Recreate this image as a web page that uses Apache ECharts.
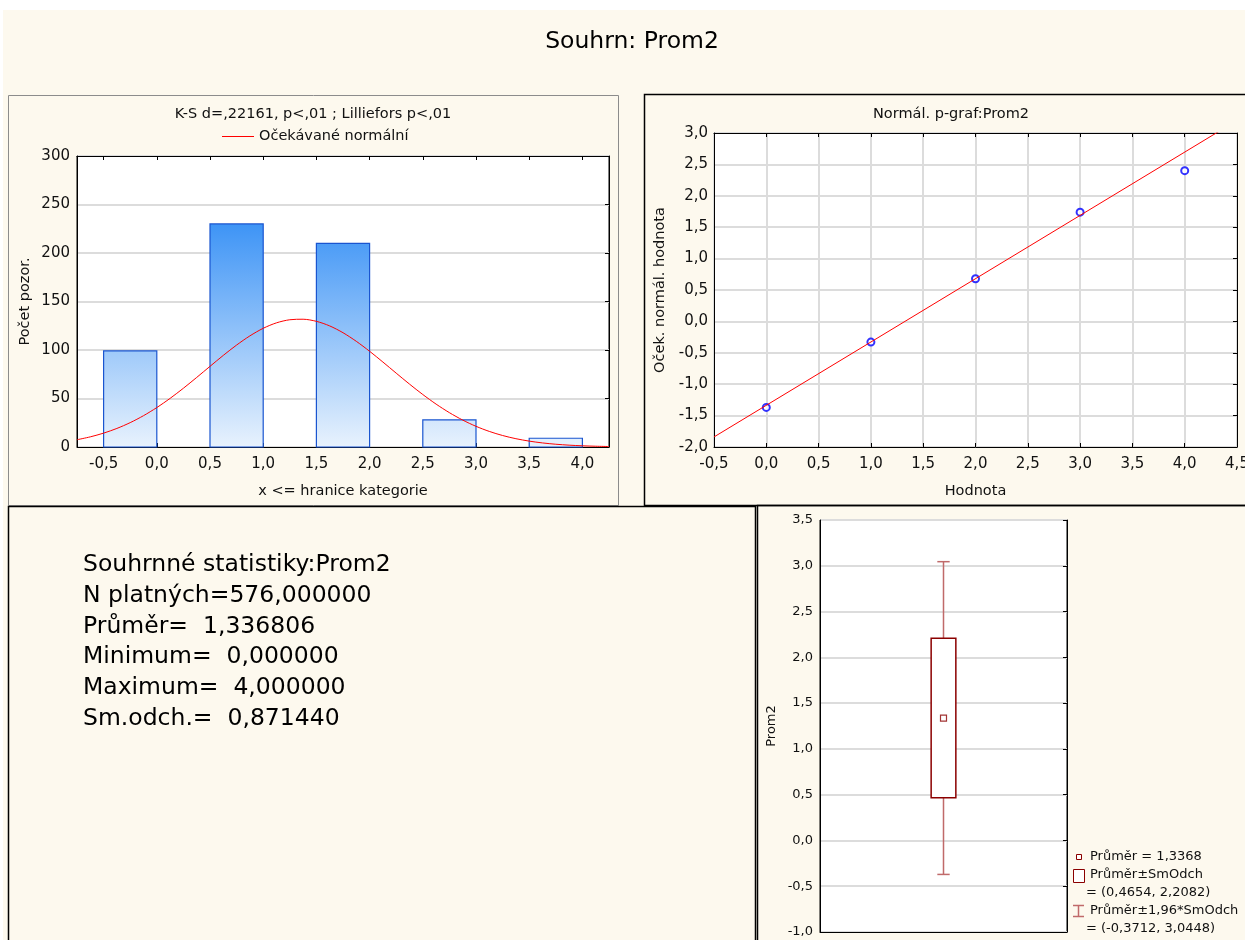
<!DOCTYPE html>
<html>
<head>
<meta charset="utf-8">
<script src="https://cdn.jsdelivr.net/npm/echarts@6/dist/echarts.min.js"></script>
<style>
  html, body { margin: 0; padding: 0; background: #fff; }
  #chart { width: 1245px; height: 940px; }
</style>
</head>
<body>
<div id="chart"></div>
<script>
// ---- Histogram of Prom2: class limits and counts ----
const binLower = [-0.5, 0.5, 1.5, 2.5, 3.5];
const binUpper = [0.0, 1.0, 2.0, 3.0, 4.0];
const binCounts = [99, 230, 210, 28, 9];
const histTicks = [-0.5, 0.0, 0.5, 1.0, 1.5, 2.0, 2.5, 3.0, 3.5, 4.0];

// Expected normal frequencies (per class width 0.5)
const normalX = [-0.75, -0.625, -0.5, -0.375, -0.25, -0.125, 0.0, 0.125, 0.25, 0.375,
                 0.5, 0.625, 0.75, 0.875, 1.0, 1.125, 1.25, 1.375, 1.5, 1.625,
                 1.75, 1.875, 2.0, 2.125, 2.25, 2.375, 2.5, 2.625, 2.75, 2.875,
                 3.0, 3.125, 3.25, 3.375, 3.5, 3.625, 3.75, 3.875, 4.0, 4.125, 4.25];
const normalY = [7.50, 10.46, 14.30, 19.15, 25.12, 32.29, 40.65, 50.14, 60.58, 71.71,
                 83.15, 94.45, 105.10, 114.57, 122.36, 128.01, 131.19, 131.72, 129.55, 124.83,
                 117.83, 108.95, 98.70, 87.58, 76.14, 64.84, 54.10, 44.21, 35.40, 27.76,
                 21.33, 16.06, 11.84, 8.56, 6.06, 4.20, 2.85, 1.90, 1.24, 0.79, 0.49];

// ---- Normal probability plot ----
const ppValues = [0, 1, 2, 3, 4];
const ppExpected = [-1.37, -0.33, 0.68, 1.74, 2.40];
const fitX = [-0.5, 4.5];
const fitY = [-1.84, 3.20];

// ---- Summary statistics ----
const statN = 576;
const statMean = 1.336806;
const statMin = 0;
const statMax = 4;
const statSd = 0.871440;

// ---- Box plot: mean, mean±SD, mean±1.96*SD ----
const boxCategories = ['Prom2'];
const boxMean = [1.3368];
const boxSd = [0.4654, 2.2082];
const boxCi = [-0.3712, 3.0448];

// ---- Text ----
const mainTitle = 'Souhrn: Prom2';
const ksLabel = 'K-S d=,22161, p<,01 ; Lilliefors p<,01';
const ppTitle = 'Normál. p-graf:Prom2';

const FONT = 'DejaVu Sans';
const INK = '#111';
const CREAM = '#fdf9ee';
const comma = (v, d) => v.toFixed(d).replace('.', ',');

const chart = echarts.init(document.getElementById('chart'), null, { renderer: 'canvas' });

const blackLine = { show: true, onZero: false, lineStyle: { color: '#000', width: 1 } };
const gridLines = { show: true, lineStyle: { color: '#dcdcdc', width: 2 } };
const noSplit = { show: false };
const innerTicks = { show: true, inside: true, length: 4, lineStyle: { color: '#000' } };
const label = (size, margin) => ({
  show: true, color: INK, fontFamily: FONT, fontSize: size, margin: margin,
  showMinLabel: true, showMaxLabel: true, hideOverlap: false,
  formatter: v => comma(Number(v), 1)
});
const nameStyle = (size) => ({ color: INK, fontFamily: FONT, fontSize: size });

const plotGrid = (l, t, w, h) => ({
  left: l, top: t, width: w, height: h, show: true,
  backgroundColor: '#fff', borderColor: '#000', borderWidth: 1,
  containLabel: false, outerBoundsMode: 'none'
});

// Statistica-style summary lines
const summaryLines = [
  'Souhrnné statistiky:Prom2',
  'N platných=' + comma(statN, 6),
  'Průměr=  ' + comma(statMean, 6),
  'Minimum=  ' + comma(statMin, 6),
  'Maximum=  ' + comma(statMax, 6),
  'Sm.odch.=  ' + comma(statSd, 6)
];

const boxRed = '#8b0000';
const whiskerRed = '#c06a6a';

const graphics = [
  // page background and panel frames
  { type: 'rect', z: -10, shape: { x: 3, y: 10, width: 1250, height: 940 }, style: { fill: CREAM } },
  { type: 'rect', z: -9, shape: { x: 8.5, y: 95.5, width: 610, height: 410 }, style: { fill: 'none', stroke: '#8c8c8c', lineWidth: 1 } },
  { type: 'rect', z: -9, shape: { x: 644.5, y: 94.5, width: 640, height: 411 }, style: { fill: 'none', stroke: '#000', lineWidth: 1.5 } },
  { type: 'rect', z: -9, shape: { x: 8.5, y: 506.5, width: 747, height: 460 }, style: { fill: 'none', stroke: '#000', lineWidth: 1.5 } },
  { type: 'rect', z: -9, shape: { x: 757.5, y: 505.5, width: 520, height: 460 }, style: { fill: 'none', stroke: '#000', lineWidth: 1.5 } },
  // titles
  { type: 'text', z: 10, x: 632, y: 42, style: { text: mainTitle, fontFamily: FONT, fontSize: 23.5, fill: '#000', align: 'center', verticalAlign: 'middle' } },
  { type: 'text', z: 10, x: 313, y: 114, style: { text: ksLabel, fontFamily: FONT, fontSize: 14.5, fill: INK, align: 'center', verticalAlign: 'middle' } },
  { type: 'text', z: 10, x: 951, y: 114, style: { text: ppTitle, fontFamily: FONT, fontSize: 14.5, fill: INK, align: 'center', verticalAlign: 'middle' } },
  // summary statistics
  { type: 'text', z: 10, x: 83, y: 549.5, style: { text: summaryLines.join('\n'), fontFamily: FONT, fontSize: 23.5, lineHeight: 30.8, fill: '#000', align: 'left', verticalAlign: 'top' } },
  // box plot key
  { type: 'rect', z: 10, shape: { x: 1076.5, y: 854.5, width: 5, height: 5 }, style: { fill: '#fff', stroke: boxRed, lineWidth: 1 } },
  { type: 'text', z: 10, x: 1090, y: 857, style: { text: 'Průměr = ' + comma(boxMean[0], 4), fontFamily: FONT, fontSize: 13, fill: INK, verticalAlign: 'middle' } },
  { type: 'rect', z: 10, shape: { x: 1073.5, y: 869.5, width: 11, height: 13 }, style: { fill: '#fff', stroke: boxRed, lineWidth: 1 } },
  { type: 'text', z: 10, x: 1090, y: 875, style: { text: 'Průměr±SmOdch', fontFamily: FONT, fontSize: 13, fill: INK, verticalAlign: 'middle' } },
  { type: 'text', z: 10, x: 1086, y: 893, style: { text: '= (' + comma(boxSd[0], 4) + ', ' + comma(boxSd[1], 4) + ')', fontFamily: FONT, fontSize: 13, fill: INK, verticalAlign: 'middle' } },
  { type: 'polyline', z: 10, shape: { points: [[1073, 905.5], [1084, 905.5]] }, style: { stroke: whiskerRed, lineWidth: 1.5 } },
  { type: 'polyline', z: 10, shape: { points: [[1078.5, 905.5], [1078.5, 916.5]] }, style: { stroke: whiskerRed, lineWidth: 1.5 } },
  { type: 'polyline', z: 10, shape: { points: [[1073, 916.5], [1084, 916.5]] }, style: { stroke: whiskerRed, lineWidth: 1.5 } },
  { type: 'text', z: 10, x: 1090, y: 911, style: { text: 'Průměr±1,96*SmOdch', fontFamily: FONT, fontSize: 13, fill: INK, verticalAlign: 'middle' } },
  { type: 'text', z: 10, x: 1086, y: 929, style: { text: '= (' + comma(boxCi[0], 4) + ', ' + comma(boxCi[1], 4) + ')', fontFamily: FONT, fontSize: 13, fill: INK, verticalAlign: 'middle' } }
];

const option = {
  animation: false,
  backgroundColor: '#fff',
  textStyle: { fontFamily: FONT },
  graphic: { elements: graphics },
  legend: {
    left: 222, top: 129, padding: 0, itemWidth: 32, itemHeight: 1, itemGap: 5,
    selectedMode: false,
    data: [{ name: 'Očekávané normální', icon: 'rect' }],
    textStyle: { color: INK, fontFamily: FONT, fontSize: 14.5, padding: [0, 0, 0, 0] }
  },
  grid: [
    plotGrid(77, 156, 532, 291),
    plotGrid(714, 133, 523, 314),
    plotGrid(820, 520, 247, 412)
  ],
  xAxis: [
    { // histogram, class limits
      type: 'value', gridIndex: 0, position: 'bottom', min: -0.75, max: 4.25,
      axisLine: blackLine,
      axisTick: Object.assign({}, innerTicks, { customValues: histTicks }),
      axisLabel: Object.assign(label(15, 10), { customValues: histTicks }),
      splitLine: noSplit,
      name: 'x <= hranice kategorie', nameLocation: 'middle', nameGap: 37, nameTextStyle: nameStyle(14.5)
    },
    {
      type: 'value', gridIndex: 0, position: 'top', min: -0.75, max: 4.25,
      axisLine: blackLine,
      axisTick: Object.assign({}, innerTicks, { customValues: histTicks }),
      axisLabel: { show: false }, splitLine: noSplit
    },
    { // probability plot, observed value
      type: 'value', gridIndex: 1, position: 'bottom', min: -0.5, max: 4.5, interval: 0.5,
      axisLine: blackLine, axisTick: innerTicks, axisLabel: label(15, 10), splitLine: gridLines,
      name: 'Hodnota', nameLocation: 'middle', nameGap: 37, nameTextStyle: nameStyle(14.5)
    },
    {
      type: 'value', gridIndex: 1, position: 'top', min: -0.5, max: 4.5, interval: 0.5,
      axisLine: blackLine, axisTick: innerTicks, axisLabel: { show: false }, splitLine: noSplit
    },
    { // box plot
      type: 'category', gridIndex: 2, position: 'bottom', data: boxCategories,
      axisLine: blackLine, axisTick: { show: false }, axisLabel: { show: false }, splitLine: noSplit
    }
  ],
  yAxis: [
    {
      type: 'value', gridIndex: 0, position: 'left', min: 0, max: 300, interval: 50,
      axisLine: blackLine, axisTick: { show: false },
      axisLabel: Object.assign(label(15, 7), { formatter: v => String(v) }),
      splitLine: gridLines,
      name: 'Počet pozor.', nameLocation: 'middle', nameGap: 44, nameTextStyle: nameStyle(14.5)
    },
    {
      type: 'value', gridIndex: 0, position: 'right', min: 0, max: 300, interval: 50,
      axisLine: blackLine, axisTick: innerTicks, axisLabel: { show: false }, splitLine: noSplit
    },
    {
      type: 'value', gridIndex: 1, position: 'left', min: -2, max: 3, interval: 0.5,
      axisLine: blackLine, axisTick: { show: false }, axisLabel: label(15, 6), splitLine: gridLines,
      name: 'Oček. normál. hodnota', nameLocation: 'middle', nameGap: 46, nameTextStyle: nameStyle(14.5)
    },
    {
      type: 'value', gridIndex: 1, position: 'right', min: -2, max: 3, interval: 0.5,
      axisLine: blackLine, axisTick: innerTicks, axisLabel: { show: false }, splitLine: noSplit
    },
    {
      type: 'value', gridIndex: 2, position: 'left', min: -1, max: 3.5, interval: 0.5,
      axisLine: blackLine, axisTick: { show: false }, axisLabel: label(13, 7), splitLine: gridLines,
      name: 'Prom2', nameLocation: 'middle', nameGap: 42, nameTextStyle: nameStyle(13)
    },
    {
      type: 'value', gridIndex: 2, position: 'right', min: -1, max: 3.5, interval: 0.5,
      axisLine: blackLine, axisTick: innerTicks, axisLabel: { show: false }, splitLine: noSplit
    }
  ],
  series: [
    { // histogram bars spanning each class
      name: 'Počet pozor.', type: 'custom', xAxisIndex: 0, yAxisIndex: 0,
      data: binLower.map((lo, i) => [lo, binUpper[i], binCounts[i]]),
      encode: { x: [0, 1], y: 2 },
      renderItem: (params, api) => {
        const p0 = api.coord([api.value(0), api.value(2)]);
        const p1 = api.coord([api.value(1), 0]);
        const gTop = api.coord([0, 250])[1];
        const fill = new echarts.graphic.LinearGradient(0, gTop, 0, p1[1], [
          { offset: 0, color: '#2f8cf5' },
          { offset: 1, color: '#e8f2fd' }
        ], true);
        return {
          type: 'rect',
          shape: { x: p0[0], y: p0[1], width: p1[0] - p0[0], height: p1[1] - p0[1] },
          style: { fill: fill, stroke: '#1a55d0', lineWidth: 1.2 }
        };
      }
    },
    {
      name: 'Očekávané normální', type: 'line', xAxisIndex: 0, yAxisIndex: 0,
      data: normalX.map((x, i) => [x, normalY[i]]),
      smooth: 0.3, symbol: 'none', color: '#ff0000',
      lineStyle: { color: '#ff0000', width: 1 }
    },
    {
      name: 'fit', type: 'line', xAxisIndex: 2, yAxisIndex: 2,
      data: fitX.map((x, i) => [x, fitY[i]]),
      symbol: 'none', clip: true, color: '#ff0000',
      lineStyle: { color: '#ff0000', width: 1 }
    },
    {
      name: 'pp', type: 'scatter', xAxisIndex: 2, yAxisIndex: 2,
      data: ppValues.map((x, i) => [x, ppExpected[i]]),
      symbol: 'circle', symbolSize: 7,
      itemStyle: { color: '#fff', borderColor: '#0000ff', borderWidth: 2 }
    },
    { // mean ± 1.96*SD whisker
      name: 'Průměr±1,96*SmOdch', type: 'custom', xAxisIndex: 4, yAxisIndex: 4,
      data: [[0, boxCi[0], boxCi[1]]],
      encode: { x: 0, y: [1, 2] },
      renderItem: (params, api) => {
        const lo = api.coord([api.value(0), api.value(1)]);
        const hi = api.coord([api.value(0), api.value(2)]);
        const cap = api.size([1, 0])[0] * 0.025;
        const st = { stroke: whiskerRed, lineWidth: 1.5 };
        return {
          type: 'group',
          children: [
            { type: 'line', shape: { x1: lo[0], y1: lo[1], x2: hi[0], y2: hi[1] }, style: st },
            { type: 'line', shape: { x1: lo[0] - cap, y1: lo[1], x2: lo[0] + cap, y2: lo[1] }, style: st },
            { type: 'line', shape: { x1: hi[0] - cap, y1: hi[1], x2: hi[0] + cap, y2: hi[1] }, style: st }
          ]
        };
      }
    },
    { // mean ± SD box
      name: 'Průměr±SmOdch', type: 'custom', xAxisIndex: 4, yAxisIndex: 4,
      data: [[0, boxSd[0], boxSd[1]]],
      encode: { x: 0, y: [1, 2] },
      renderItem: (params, api) => {
        const lo = api.coord([api.value(0), api.value(1)]);
        const hi = api.coord([api.value(0), api.value(2)]);
        const half = api.size([1, 0])[0] * 0.05;
        return {
          type: 'rect',
          shape: { x: lo[0] - half, y: hi[1], width: half * 2, height: lo[1] - hi[1] },
          style: { fill: '#fff', stroke: boxRed, lineWidth: 1.5 }
        };
      }
    },
    {
      name: 'Průměr', type: 'scatter', xAxisIndex: 4, yAxisIndex: 4,
      data: boxMean.map(m => [0, m]),
      symbol: 'rect', symbolSize: 6,
      itemStyle: { color: '#fff', borderColor: boxRed, borderWidth: 1.2 }
    }
  ]
};

chart.setOption(option);
</script>
</body>
</html>
